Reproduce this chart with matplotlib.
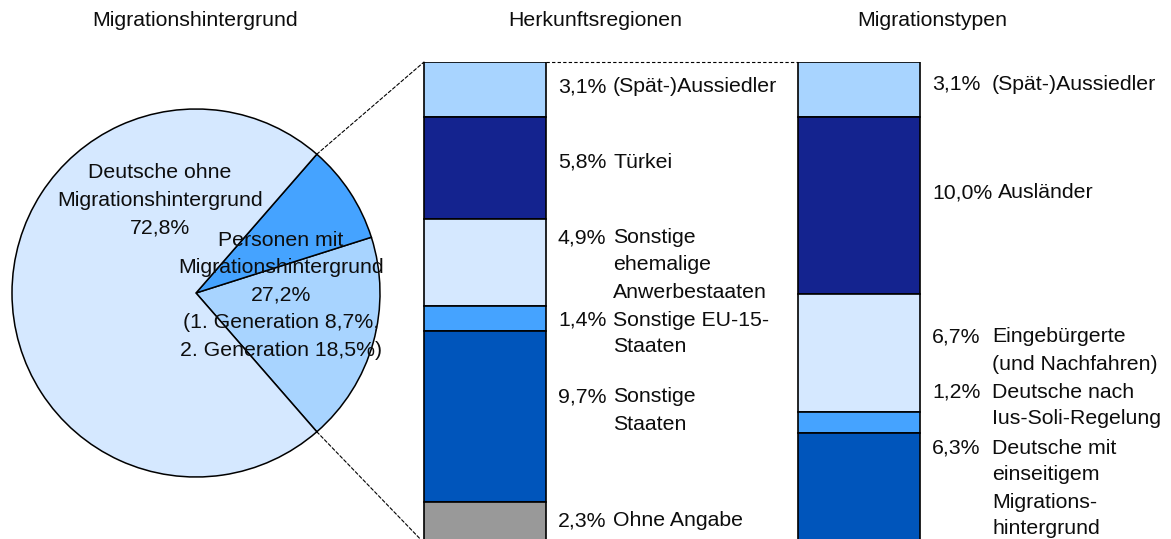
import matplotlib
matplotlib.use("Agg")
import matplotlib.pyplot as plt
from matplotlib.patches import ConnectionPatch
import numpy as np

plt.rcParams['font.family'] = ['Liberation Sans', 'DejaVu Sans']

W, H = 1171, 539

# pie: Migrationshintergrund (counterclockwise, starting at the lower boundary)
pie_values = [18.5, 8.7, 72.8]   # 2. Generation, 1. Generation, Deutsche ohne MH
pie_colors = ["#A8D4FF", "#45A3FF", "#D5E8FF"]

# bar 1: Herkunftsregionen (top -> bottom)
herkunft_values = [3.1, 5.8, 4.9, 1.4, 9.7, 2.3]
herkunft_labels = ["(Spät-)Aussiedler", "Türkei", "Sonstige\nehemalige\nAnwerbestaaten",
                   "Sonstige EU-15-\nStaaten", "Sonstige\nStaaten", "Ohne Angabe"]
herkunft_colors = ["#A8D4FF", "#14238F", "#D5E8FF", "#45A3FF", "#0055BB", "#999999"]

# bar 2: Migrationstypen (top -> bottom)
typen_values = [3.1, 10.0, 6.7, 1.2, 6.3]
typen_labels = ["(Spät-)Aussiedler", "Ausländer", "Eingebürgerte\n(und Nachfahren)",
                "Deutsche nach\nIus-Soli-Regelung",
                "Deutsche mit\neinseitigem\nMigrations-\nhintergrund"]
typen_colors = ["#A8D4FF", "#14238F", "#D5E8FF", "#45A3FF", "#0055BB"]

titles = ["Migrationshintergrund", "Herkunftsregionen", "Migrationstypen"]

FS = 15.3
LINE = 27  # px between text lines
TXT = "#0d0d0d"


def pct(v):
    return ("%.1f%%" % v).replace(".", ",")


def fxy(x, y):
    # pixel position -> figure fraction
    return x / W, 1 - y / H


fig = plt.figure(figsize=(W / 100, H / 100), dpi=100)

# ---- pie ----
ax_pie = fig.add_axes([12 / W, 1 - 477 / H, 368 / W, 368 / H])
mig_share = pie_values[0] + pie_values[1]
start = -360 * mig_share / 100 / 2
wedges, _ = ax_pie.pie(pie_values, colors=pie_colors, startangle=start, counterclock=True,
                       wedgeprops=dict(edgecolor="black", linewidth=1.1))
for w in wedges:
    w.set_clip_on(False)
ax_pie.set_xlim(-1, 1)
ax_pie.set_ylim(-1, 1)
ax_pie.set_aspect("equal")
ax_pie.axis("off")

deutsche_lines = ["Deutsche ohne", "Migrationshintergrund", pct(pie_values[2])]
for i, s in enumerate(deutsche_lines):
    fig.text(*fxy(160, 173 + i * 27.5), s, ha="center", va="center", fontsize=FS, color=TXT)
personen_lines = ["Personen mit", "Migrationshintergrund", pct(mig_share),
                  "(1. Generation %s," % pct(pie_values[1]),
                  "2. Generation %s)" % pct(pie_values[0])]
for i, s in enumerate(personen_lines):
    fig.text(*fxy(281, 240 + i * 27.5), s, ha="center", va="center", fontsize=FS, color=TXT)

# ---- bars ----
px_per_pct = 17.68
ax_bar = fig.add_axes([0, 0, 1, (H - 62) / H])
ax_bar.set_xlim(0, W)
ax_bar.set_ylim((H - 62) / px_per_pct, 0)
ax_bar.axis("off")

bar_x = [485, 859]
bar_w = 122
for xc, vals, cols in [(bar_x[0], herkunft_values, herkunft_colors),
                       (bar_x[1], typen_values, typen_colors)]:
    bottoms = np.concatenate([[0], np.cumsum(vals)[:-1]])
    ax_bar.bar([xc] * len(vals), vals, bottom=bottoms, width=bar_w, color=cols,
               edgecolor="black", linewidth=1.2)

# connectors
left1 = bar_x[0] - bar_w / 2
a_top = np.deg2rad(start + 360 * mig_share / 100)
a_bot = np.deg2rad(start)
for ang, yb in [(a_top, 0), (a_bot, sum(herkunft_values))]:
    con = ConnectionPatch(xyA=(np.cos(ang), np.sin(ang)), coordsA=ax_pie.transData,
                          xyB=(left1, yb), coordsB=ax_bar.transData,
                          linestyle=(0, (3, 2)), linewidth=0.8, color="black")
    fig.add_artist(con)
ax_bar.plot([bar_x[0] + bar_w / 2, bar_x[1] - bar_w / 2], [0, 0], color="black",
            linestyle=(0, (3, 2)), linewidth=0.8, clip_on=False)

# labels
renderer = fig.canvas.get_renderer()


def label_column(vals, labels, ys, pct_x, desc_x):
    for v, lab, y in zip(vals, labels, ys):
        t = fig.text(*fxy(pct_x, y), pct(v), ha="left", va="center", fontsize=FS, color=TXT)
        x1 = t.get_window_extent(renderer).x1
        dx = max(desc_x, x1 + 6)
        for j, line in enumerate(lab.split("\n")):
            fig.text(*fxy(dx, y + j * LINE), line, ha="left", va="center", fontsize=FS,
                     color=TXT)


label_column(herkunft_values, herkunft_labels, [87, 162, 238, 320, 397, 521], 558, 613)
label_column(typen_values, typen_labels, [84, 193, 337, 392, 448], 932, 992)

for x, s in zip([195, 595, 932], titles):
    fig.text(*fxy(x, 20), s, ha="center", va="center", fontsize=FS, color=TXT)

fig.savefig("out.png", dpi=100)
